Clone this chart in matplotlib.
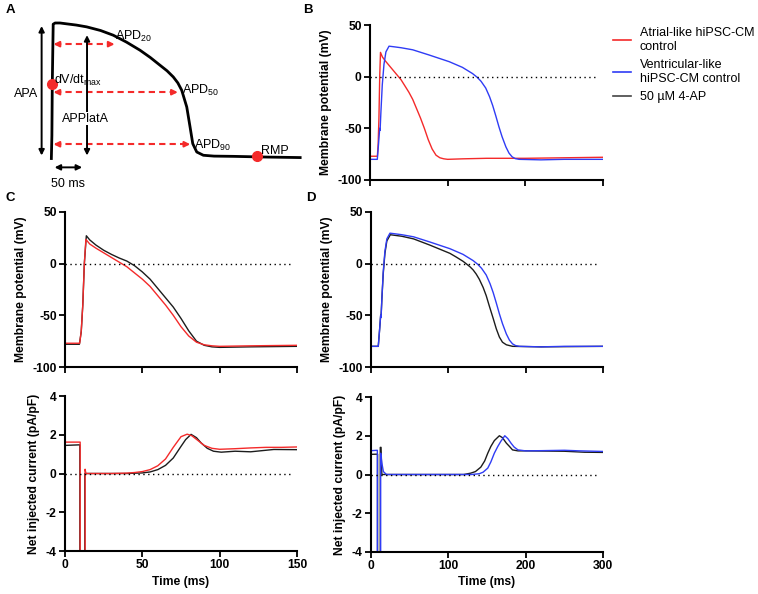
import matplotlib.pyplot as plt
from matplotlib.lines import Line2D

plt.rcParams['font.family'] = ['Liberation Sans', 'DejaVu Sans']
plt.rcParams['axes.unicode_minus'] = False

RED = '#f42a2a'
BLUE = '#2f3cf5'
BLACK = '#1c1c1c'

# schematic action potential (panel A), ms / mV
schem_t = [-1, 0, 0.7, 2.4, 6, 15, 27.2, 45, 64.3, 90, 113.5, 138, 163, 182, 200,
           213, 224.6, 233, 240.2, 249.5, 255.6, 260.6, 268, 280.2, 300, 335.7, 400, 459.3]
schem_v = [-81, -62, -20, 30, 31, 31, 30.3, 29.3, 27.8, 24.8, 20.9, 15.2, 8.5, 2.5, -3.9,
           -8.5, -13.6, -18.5, -24.6, -38.4, -54.9, -68.7, -75.6, -78.3, -79, -79.2, -79.8, -80.2]

# atrial-like control (red) and 50 uM 4-AP (black), membrane potential
atr_t = [0, 9.5, 10.5, 11.5, 12.5, 13.5, 16, 20, 25, 30, 35, 40, 45, 50, 55, 60, 65, 70,
         75, 80, 85, 90, 95, 100, 120, 150, 200, 250, 300]
atr_v = [-77, -77, -65, -40, 0, 23.5, 19, 15, 10.5, 6, 1.5, -3, -9, -15, -22, -31, -40,
         -50, -61, -70, -76, -78.5, -79.5, -80, -79.5, -79, -79, -78.5, -78]
atr_ap_t = [0, 9.3, 10.5, 11.5, 12.5, 13.8, 16, 20, 25, 30, 35, 40, 45, 50, 55, 60, 65,
            70, 75, 80, 85, 90, 95, 100, 120, 150]
atr_ap_v = [-78, -78, -66, -40, 0, 27, 23, 18, 13, 9, 5.5, 2.5, -2, -8, -15, -24, -33,
            -42, -53, -65, -75, -79, -80.5, -81, -80.5, -80]

# ventricular-like control (blue) and 50 uM 4-AP (black), membrane potential
ven_t = [0, 9.4, 11, 12.5, 13, 14, 15.8, 18, 20.5, 24.5, 30, 40, 55, 76, 90, 102, 119,
         132, 138, 143, 149, 154, 158, 162, 166, 170, 175, 179, 183, 187, 192, 220, 250, 300]
ven_v = [-80, -80, -65, -50, -52, -35, -8, 12, 24, 29.5, 29, 28, 26, 21, 17.5, 14.5, 9,
         3, -0.6, -4.5, -11, -19.5, -28, -38, -48.5, -58, -68, -74, -77.6, -79.3, -80,
         -80.5, -80, -80]
ven_ap_t = [0, 9.4, 11, 12.5, 13, 14, 15.8, 18, 20.5, 25, 30, 40, 55, 76, 102, 110, 119,
            123, 128, 132, 136, 140, 145, 149, 153, 158, 162, 166, 170, 175, 183, 220, 300]
ven_ap_v = [-80, -80, -65, -50, -52, -35, -10, 10, 22, 28, 27.5, 26.5, 24, 18, 10, 6.5,
            2.3, 0, -3, -6, -10, -15, -23, -31, -41, -53, -63, -71, -76, -78.5, -80,
            -80.5, -80]

# net injected current, atrial-like
atr_i_t = [0, 9.8, 9.8, 13, 13, 13.5, 20, 30, 40, 45, 50, 55, 60, 65, 70, 75, 79, 82, 86,
           90, 95, 100, 110, 120, 130, 140, 150]
atr_i = [1.62, 1.62, -4.5, -4.5, 0.22, 0, 0, 0, 0.02, 0.05, 0.1, 0.2, 0.4, 0.75, 1.35,
         1.9, 2.03, 1.95, 1.7, 1.45, 1.3, 1.25, 1.28, 1.32, 1.35, 1.35, 1.37]
atr_ap_i_t = [0, 9.6, 9.6, 12.8, 12.8, 20, 40, 50, 55, 60, 65, 70, 75, 78, 81.5, 85, 88,
              92, 96, 101, 110, 120, 130, 135, 150]
atr_ap_i = [1.45, 1.48, -4.5, -4.5, 0, 0, 0, 0.03, 0.08, 0.2, 0.42, 0.8, 1.4, 1.75, 2.02,
            1.85, 1.58, 1.3, 1.15, 1.1, 1.15, 1.12, 1.2, 1.24, 1.23]

# net injected current, ventricular-like
ven_i_t = [0, 8.2, 8.2, 12.5, 12.5, 14, 16, 20, 100, 130, 140, 145, 151, 155, 159.5, 164,
           168, 173, 177, 181, 185, 190, 200, 220, 250, 270, 300]
ven_i = [1.23, 1.25, -4.5, -4.5, 1.1, 0.6, 0.15, 0, 0, 0, 0.04, 0.12, 0.33, 0.65, 1.1,
         1.45, 1.72, 2.0, 1.85, 1.62, 1.42, 1.27, 1.22, 1.23, 1.25, 1.22, 1.19]
ven_ap_i_t = [0, 8.5, 8.5, 12, 12, 13, 14, 60, 120, 129, 135, 142, 147, 151, 155, 159.5,
              166, 170, 175, 179, 183, 190, 200, 250, 276, 300]
ven_ap_i = [1.04, 1.05, -4.5, -4.5, 1.4, 1.4, 0, 0, 0, 0.07, 0.15, 0.38, 0.7, 1.1, 1.45,
            1.75, 2.0, 1.9, 1.62, 1.45, 1.27, 1.22, 1.22, 1.2, 1.15, 1.14]

labels = ['Atrial-like hiPSC-CM\ncontrol', 'Ventricular-like\nhiPSC-CM control', '50 µM 4-AP']

W, H = 758, 594
fig = plt.figure(figsize=(W / 100, H / 100), dpi=100)


def box(l, t, r, b):
    return [l / W, 1 - b / H, (r - l) / W, (b - t) / H]


def style(ax, xmax, ylim, yticks, ylabel, xlabel=None):
    ax.spines[['top', 'right']].set_visible(False)
    ax.spines['left'].set_linewidth(1.5)
    ax.spines['bottom'].set_linewidth(1.5)
    ax.set_xlim(0, xmax)
    ax.set_ylim(*ylim)
    ax.set_xticks([0, xmax / 3, 2 * xmax / 3, xmax])
    ax.set_yticks(yticks)
    ax.tick_params(width=1.3, length=4, labelsize=8.7, pad=2)
    ax.axhline(0, xmax=0.98, color='black', ls=(0, (1, 2.5)), lw=1)
    if xlabel:
        ax.set_xticklabels([str(int(v)) for v in ax.get_xticks()])
        ax.set_xlabel(xlabel, fontsize=8.7, fontweight='bold', labelpad=3)
    else:
        ax.set_xticklabels([])
    ax.set_yticklabels([str(v) for v in yticks])
    for lab in ax.get_xticklabels() + ax.get_yticklabels():
        lab.set_fontweight('bold')
    ax.set_ylabel(ylabel, fontsize=8.7, fontweight='bold', labelpad=4)


vm = 'Membrane potential (mV)'
cur = 'Net injected current (pA/pF)'

# panel A
axA = fig.add_axes(box(0, 0, 320, 190))
axA.set_xlim(-96, 496)
axA.set_ylim(-107, 50)
axA.axis('off')
axA.plot(schem_t, schem_v, color='black', lw=2)
black_arrow = dict(arrowstyle='<|-|>', color='black', lw=1.4, mutation_scale=8,
                   shrinkA=0, shrinkB=0)
axA.annotate('', xy=(-19, 28.5), xytext=(-19, -78.5), arrowprops=black_arrow)
axA.annotate('', xy=(65, 21), xytext=(65, -78.5), arrowprops=black_arrow)
axA.annotate('', xy=(5, -88.3), xytext=(56, -88.3), arrowprops=black_arrow)
fs = 9
axA.text(-47, -28, 'APA', fontsize=fs, ha='center', va='center')
axA.text(63, -48, 'APPlatA', fontsize=fs, ha='center', va='center',
         bbox=dict(facecolor='white', edgecolor='none', pad=0.5))
axA.text(30, -102, '50 ms', fontsize=fs, ha='center', va='center')
for v, tend, name, lx, ly in [(13.5, 116, '20', 116, 17.3),
                               (-26.2, 233, '50', 240, -27.3),
                               (-69.2, 256, '90', 262, -72.8)]:
    axA.plot([6, tend - 6], [v, v], color=RED, lw=1.5, ls=(0, (3, 2)))
    head = dict(arrowstyle='-|>', color=RED, lw=1.5, mutation_scale=8, shrinkA=0, shrinkB=0)
    axA.annotate('', xy=(3, v), xytext=(14, v), arrowprops=head)
    axA.annotate('', xy=(tend, v), xytext=(tend - 11, v), arrowprops=head)
    axA.text(lx, ly, r'$\mathregular{APD_{%s}}$' % name, fontsize=fs, ha='left', va='baseline')
axA.plot([0], [-19.6], 'o', color=RED, ms=7)
axA.plot([380], [-79.2], 'o', color=RED, ms=7)
axA.text(4, -19, r'$\mathregular{dV/dt_{max}}$', fontsize=fs, ha='left', va='baseline')
axA.text(387, -77.5, 'RMP', fontsize=fs, ha='left', va='baseline')

# panel B
axB = fig.add_axes(box(370, 25, 603, 180))
axB.plot(atr_t, atr_v, color=RED, lw=1)
axB.plot(ven_t, ven_v, color=BLUE, lw=1)
style(axB, 300, (-100, 50), [50, 0, -50, -100], vm)

handles = [Line2D([], [], color=RED, lw=1.2), Line2D([], [], color=BLUE, lw=1.2),
           Line2D([], [], color='#444444', lw=1.2)]
fig.legend(handles, labels, loc='upper left', bbox_to_anchor=(613 / W, 1 - 27 / H),
           frameon=False, fontsize=9, handlelength=1.4, handletextpad=0.75,
           labelspacing=0.5, borderpad=0, borderaxespad=0)

# panel C
axC1 = fig.add_axes(box(65, 212, 297, 367))
axC1.plot(atr_ap_t, atr_ap_v, color=BLACK, lw=1)
axC1.plot(atr_t, atr_v, color=RED, lw=1)
style(axC1, 150, (-100, 50), [50, 0, -50, -100], vm)

axC2 = fig.add_axes(box(65, 396, 297, 551))
axC2.plot(atr_ap_i_t, atr_ap_i, color=BLACK, lw=1)
axC2.plot(atr_i_t, atr_i, color=RED, lw=1)
style(axC2, 150, (-4, 4), [4, 2, 0, -2, -4], cur, 'Time (ms)')

# panel D
axD1 = fig.add_axes(box(371, 212, 603, 367))
axD1.plot(ven_ap_t, ven_ap_v, color=BLACK, lw=1)
axD1.plot(ven_t, ven_v, color=BLUE, lw=1)
style(axD1, 300, (-100, 50), [50, 0, -50, -100], vm)

axD2 = fig.add_axes(box(371, 397, 603, 552))
axD2.plot(ven_ap_i_t, ven_ap_i, color=BLACK, lw=1)
axD2.plot(ven_i_t, ven_i, color=BLUE, lw=1)
style(axD2, 300, (-4, 4), [4, 2, 0, -2, -4], cur, 'Time (ms)')

for x, y, s in [(6, 10, 'A'), (303, 10, 'B'), (6, 198, 'C'), (306, 198, 'D')]:
    fig.text(x / W, 1 - y / H, s, fontsize=9.5, fontweight='bold', va='center')

fig.savefig('out.png', dpi=100)
